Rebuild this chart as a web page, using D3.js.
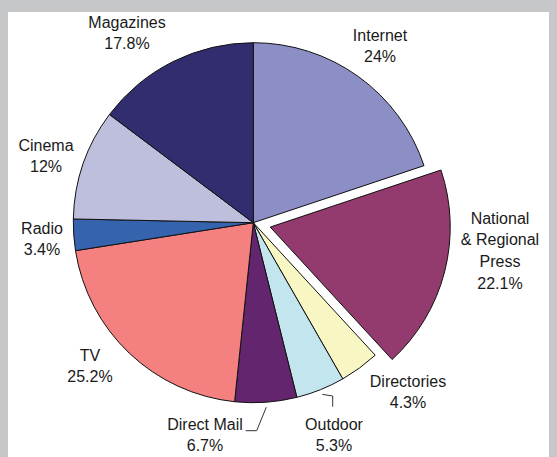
<!DOCTYPE html>
<html>
<head>
<meta charset="utf-8">
<script src="https://cdn.jsdelivr.net/npm/d3@7"></script>
<style>
  body { margin: 0; background: #c6c7c9; }
  svg { display: block; }
</style>
</head>
<body>
<svg></svg>
<script>
// media spend share, clockwise from 12 o'clock
const categories = ["Internet", "National & Regional Press", "Directories", "Outdoor",
                    "Direct Mail", "TV", "Radio", "Cinema", "Magazines"];
const values = [24, 22.1, 4.3, 5.3, 6.7, 25.2, 3.4, 12, 17.8];
const valueLabels = ["24%", "22.1%", "4.3%", "5.3%", "6.7%", "25.2%", "3.4%", "12%", "17.8%"];
const nameLines = [["Internet"], ["National", "& Regional", "Press"], ["Directories"], ["Outdoor"],
                   ["Direct Mail"], ["TV"], ["Radio"], ["Cinema"], ["Magazines"]];
const colors = ["#8c8fc6", "#933a6e", "#f8f6c2", "#c3e6ee", "#63256e",
                "#f48080", "#3563ae", "#bebedd", "#312d6f"];

const width = 557, height = 457;
const cx = 253.3, cy = 222.7, r = 180;
const explode = { "National & Regional Press": 17.5 };

// label anchor (centre of first line) per slice
const labelPos = {
  "Internet": [380, 35],
  "National & Regional Press": [500, 218],
  "Directories": [408, 381],
  "Outdoor": [334, 424],
  "Direct Mail": [205, 424],
  "TV": [90, 355],
  "Radio": [42, 228],
  "Cinema": [46, 145],
  "Magazines": [127, 22]
};

const svg = d3.select("svg")
  .attr("width", width)
  .attr("height", height);

svg.append("rect")
  .attr("x", 8).attr("y", 12)
  .attr("width", 541).attr("height", height)
  .attr("fill", "white");

const data = categories.map((c, i) => ({ name: c, value: values[i], label: valueLabels[i], lines: nameLines[i], color: colors[i] }));

const pie = d3.pie().sort(null).value(d => d.value);
const arc = d3.arc().innerRadius(0).outerRadius(r);
const arcs = pie(data);

const g = svg.append("g").attr("transform", `translate(${cx},${cy})`);

g.selectAll("path")
  .data(arcs)
  .enter()
  .append("path")
  .attr("d", arc)
  .attr("fill", d => d.data.color)
  .attr("stroke", "#111")
  .attr("stroke-width", 1)
  .attr("stroke-linejoin", "round")
  .attr("transform", d => {
    const off = explode[d.data.name] || 0;
    const a = (d.startAngle + d.endAngle) / 2;
    return `translate(${off * Math.sin(a)},${-off * Math.cos(a)})`;
  });

// leader lines for the two bottom slices
function edgePoint(name, rr) {
  const d = arcs.find(a => a.data.name === name);
  const a = (d.startAngle + d.endAngle) / 2;
  return [cx + rr * Math.sin(a), cy - rr * Math.cos(a)];
}
const leaders = [
  { name: "Direct Mail", pts: [[256.7, 430.7], [245.7, 430.7]] },
  { name: "Outdoor", pts: [[332.7, 396], [332.7, 406.7]] }
];
svg.selectAll(".leader")
  .data(leaders)
  .enter()
  .append("path")
  .attr("class", "leader")
  .attr("fill", "none")
  .attr("stroke", "#333")
  .attr("stroke-width", 1)
  .attr("d", d => d3.line()([edgePoint(d.name, r + 5)].concat(d.pts)));

// labels
const lineH = 21.7;
const labels = svg.selectAll(".label")
  .data(data)
  .enter()
  .append("text")
  .attr("class", "label")
  .attr("text-anchor", "middle")
  .style("font-family", "'Liberation Sans', Arial, sans-serif")
  .style("font-size", "16px")
  .style("fill", "#1a1a1a");

labels.each(function(d) {
  const [x, y] = labelPos[d.name];
  const t = d3.select(this);
  d.lines.concat([d.label]).forEach((s, i) => {
    t.append("tspan")
      .attr("x", x)
      .attr("y", y + i * lineH)
      .attr("dy", "0.35em")
      .text(s);
  });
});
</script>
</body>
</html>
